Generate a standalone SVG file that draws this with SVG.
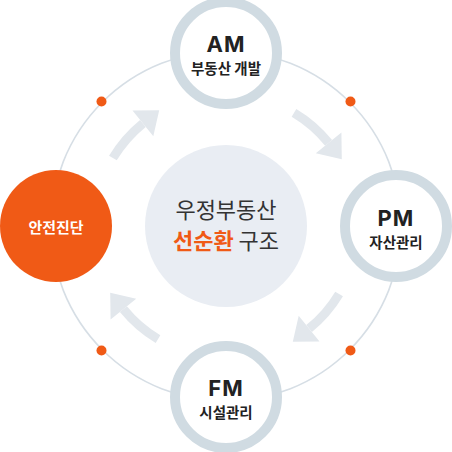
<svg xmlns="http://www.w3.org/2000/svg" width="452" height="452" viewBox="0 0 452 452">
  <style>
    .orbit { fill: none; stroke: #d6dee5; stroke-width: 1.6; }
    .ring { fill: #ffffff; stroke: #d0dbe2; stroke-width: 10; }
    .dot { fill: #f05a16; }
    .shaft { fill: none; stroke: #e2e7ec; stroke-width: 9; }
    .head { fill: #e2e7ec; }
    .title { font-family: Inter, "Noto Sans", "Liberation Sans", sans-serif; font-weight: 700; font-size: 22px; letter-spacing: 1px; fill: #222222; text-anchor: middle; }
    .sub { font-family: "Noto Sans CJK KR", "Noto Sans", sans-serif; font-weight: 600; font-size: 14.5px; fill: #222222; text-anchor: middle; }
    .safety { font-family: "Noto Sans CJK KR", "Noto Sans", sans-serif; font-weight: 700; font-size: 15px; fill: #ffffff; text-anchor: middle; }
    .center { font-family: "Noto Sans CJK KR", "Noto Sans", sans-serif; font-size: 22px; fill: #333333; text-anchor: middle; }
  </style>
  <defs>
    <g id="arrow">
      <path class="shaft" d="M 112.9 158.0 A 132 132 0 0 1 142.9 123.4"/>
      <polygon class="head" points="159.2,110.2 132.5,110.6 153.3,136.2"/>
    </g>
  </defs>

  <g id="connectors">
    <circle class="orbit" cx="226" cy="226" r="175"/>
    <use href="#arrow"/>
    <use href="#arrow" transform="rotate(90 226 226)"/>
    <use href="#arrow" transform="rotate(180 226 226)"/>
    <use href="#arrow" transform="rotate(270 226 226)"/>
    <circle class="dot" cx="101.5" cy="101.5" r="5"/>
    <circle class="dot" cx="350.5" cy="101.5" r="5"/>
    <circle class="dot" cx="350.5" cy="350.5" r="5"/>
    <circle class="dot" cx="101.5" cy="350.5" r="5"/>
  </g>

  <g id="center">
    <circle cx="226" cy="226" r="81" fill="#e9edf3"/>
    <text class="center" x="226" y="218">우정부동산</text>
    <text class="center" x="226" y="249"><tspan fill="#f05a16" font-weight="700">선순환</tspan> 구조</text>
  </g>

  <g id="node-am">
    <circle class="ring" cx="226" cy="53" r="51"/>
    <text class="title" x="226" y="52">AM</text>
    <text class="sub" x="226" y="74">부동산 개발</text>
  </g>

  <g id="node-pm">
    <circle class="ring" cx="396" cy="226" r="51"/>
    <text class="title" x="396" y="226">PM</text>
    <text class="sub" x="396" y="248">자산관리</text>
  </g>

  <g id="node-fm">
    <circle class="ring" cx="226" cy="397" r="51"/>
    <text class="title" x="226" y="396">FM</text>
    <text class="sub" x="226" y="418">시설관리</text>
  </g>

  <g id="node-safety">
    <circle cx="56" cy="226" r="56" fill="#f05a16"/>
    <text class="safety" x="56" y="233">안전진단</text>
  </g>
</svg>
